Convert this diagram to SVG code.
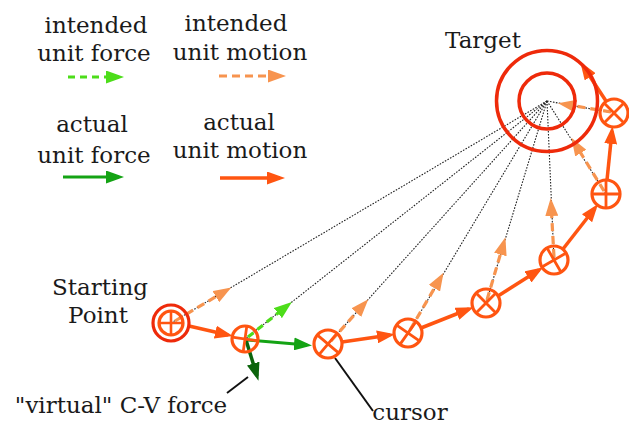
<svg xmlns="http://www.w3.org/2000/svg" width="629" height="425" viewBox="0 0 629 425">
<style>
text{font-family:"DejaVu Serif","Liberation Serif",serif;font-size:23px;fill:#1a1a1a;text-anchor:middle}
.dot{stroke:#222;stroke-width:1.1;stroke-dasharray:1.6 1.4;fill:none}
.am{stroke:#ff5511;stroke-width:3.5;fill:none;marker-end:url(#mAm)}
.im{stroke:#f7944f;stroke-width:3.2;stroke-dasharray:8 5;fill:none;marker-end:url(#mIm)}
.gi{stroke:#4ddd1a;stroke-width:3.2;stroke-dasharray:7 5;fill:none;marker-end:url(#mGi)}
.ga{stroke:#14a314;stroke-width:3.2;fill:none;marker-end:url(#mGa)}
.gv{stroke:#0b640b;stroke-width:3.5;fill:none;marker-end:url(#mGv)}
.lead{stroke:#111;stroke-width:2;fill:none}
.cur circle{fill:none;stroke:#ff5511;stroke-width:3.2}
.tgt{fill:none;stroke:#ee2a0a;stroke-width:3.5}
</style>
<defs>
<marker id="mAm" markerUnits="userSpaceOnUse" markerWidth="18" markerHeight="13" viewBox="0 0 18 13" refX="13" refY="6.5" orient="auto"><path d="M0,0L18,6.5L0,13z" fill="#ff5511"/></marker>
<marker id="mIm" markerUnits="userSpaceOnUse" markerWidth="18" markerHeight="13" viewBox="0 0 18 13" refX="13" refY="6.5" orient="auto"><path d="M0,0L18,6.5L0,13z" fill="#f7944f"/></marker>
<marker id="mGi" markerUnits="userSpaceOnUse" markerWidth="18" markerHeight="13" viewBox="0 0 18 13" refX="13" refY="6.5" orient="auto"><path d="M0,0L18,6.5L0,13z" fill="#4ddd1a"/></marker>
<marker id="mGa" markerUnits="userSpaceOnUse" markerWidth="18" markerHeight="13" viewBox="0 0 18 13" refX="13" refY="6.5" orient="auto"><path d="M0,0L18,6.5L0,13z" fill="#14a314"/></marker>
<marker id="mGv" markerUnits="userSpaceOnUse" markerWidth="18" markerHeight="13" viewBox="0 0 18 13" refX="13" refY="6.5" orient="auto"><path d="M0,0L18,6.5L0,13z" fill="#0b640b"/></marker>
<path id="cross" d="M-13,0H13M0,-13V13" fill="none" stroke="#ff5511" stroke-width="2.8"/>
</defs>

<g id="legend">
<text x="96" y="33">intended</text>
<text x="94" y="61">unit force</text>
<line class="gi" x1="68" y1="77" x2="119" y2="77"/>
<text x="236" y="31">intended</text>
<text x="240" y="60">unit motion</text>
<line class="im" x1="219" y1="76" x2="281" y2="76"/>
<text x="92" y="132">actual</text>
<text x="94" y="163">unit force</text>
<line class="ga" x1="63" y1="177" x2="119" y2="177"/>
<text x="239" y="130">actual</text>
<text x="240" y="158">unit motion</text>
<line class="am" x1="220" y1="178" x2="280" y2="178"/>
</g>

<g id="connectors">
<g id="dotted-lines">
<line class="dot" x1="547" y1="101" x2="171" y2="323"/>
<line class="dot" x1="547" y1="101" x2="245" y2="339"/>
<line class="dot" x1="547" y1="101" x2="328" y2="344"/>
<line class="dot" x1="547" y1="101" x2="408" y2="333"/>
<line class="dot" x1="547" y1="101" x2="486" y2="303"/>
<line class="dot" x1="547" y1="101" x2="554" y2="260"/>
<line class="dot" x1="547" y1="101" x2="606" y2="194"/>
<line class="dot" x1="547" y1="101" x2="614" y2="113"/>
</g>
<g id="intended-motion">
<line class="im" x1="175" y1="321" x2="227" y2="290"/>
<line class="im" x1="331" y1="341" x2="365" y2="303"/>
<line class="im" x1="410" y1="330" x2="441" y2="277"/>
<line class="im" x1="487" y1="300" x2="504" y2="242"/>
<line class="im" x1="554" y1="257" x2="551" y2="203"/>
<line class="im" x1="604" y1="191" x2="574" y2="142"/>
<line class="im" x1="611" y1="112" x2="563" y2="104"/>
</g>
<g id="actual-motion">
<line class="am" x1="189" y1="326" x2="228" y2="335"/>
<line class="am" x1="342" y1="342" x2="390" y2="335"/>
<line class="am" x1="421" y1="328" x2="469" y2="309"/>
<line class="am" x1="498" y1="296" x2="539" y2="270"/>
<line class="am" x1="563" y1="249" x2="595" y2="208"/>
<line class="am" x1="607" y1="180" x2="612" y2="131"/>
<line class="am" x1="606" y1="101" x2="583" y2="66"/>
</g>
<g id="forces">
<line class="gi" x1="248" y1="337" x2="288" y2="305"/>
<line class="ga" x1="248" y1="340" x2="307" y2="345"/>
<line class="gv" x1="246" y1="340" x2="257" y2="376"/>
</g>
<line class="lead" x1="227" y1="393" x2="248" y2="377"/>
<line class="lead" x1="335" y1="358" x2="373" y2="411"/>
</g>

<g id="target">
<circle class="tgt" cx="547" cy="101" r="50.5"/>
<circle class="tgt" cx="547" cy="101" r="28"/>
<text x="483" y="48">Target</text>
</g>

<g id="start">
<circle cx="171" cy="323" r="18" fill="none" stroke="#ee2a0a" stroke-width="3.2"/>
<g class="cur" transform="translate(171,323)"><circle r="12"/><use href="#cross" transform="scale(0.92)"/></g>
<text x="100" y="295">Starting</text>
<text x="98" y="323">Point</text>
</g>

<g id="cursor2" class="cur" transform="translate(245,339)"><circle r="13"/><use href="#cross" transform="rotate(8)"/></g>
<g id="cursor3" class="cur" transform="translate(328,344)"><circle r="14"/><use href="#cross" transform="rotate(40)"/></g>
<g id="cursor4" class="cur" transform="translate(408,333)"><circle r="14"/><use href="#cross" transform="rotate(35)"/></g>
<g id="cursor5" class="cur" transform="translate(486,303)"><circle r="14"/><use href="#cross" transform="rotate(45)"/></g>
<g id="cursor6" class="cur" transform="translate(554,260)"><circle r="14"/><use href="#cross" transform="rotate(60)"/></g>
<g id="cursor7" class="cur" transform="translate(606,194)"><circle r="14"/><use href="#cross"/></g>
<g id="cursor8" class="cur" transform="translate(614,113)"><circle r="14"/><use href="#cross" transform="rotate(45)"/></g>

<g id="labels">
<text x="121" y="413">"virtual" C-V force</text>
<text x="410" y="420">cursor</text>
</g>
</svg>
